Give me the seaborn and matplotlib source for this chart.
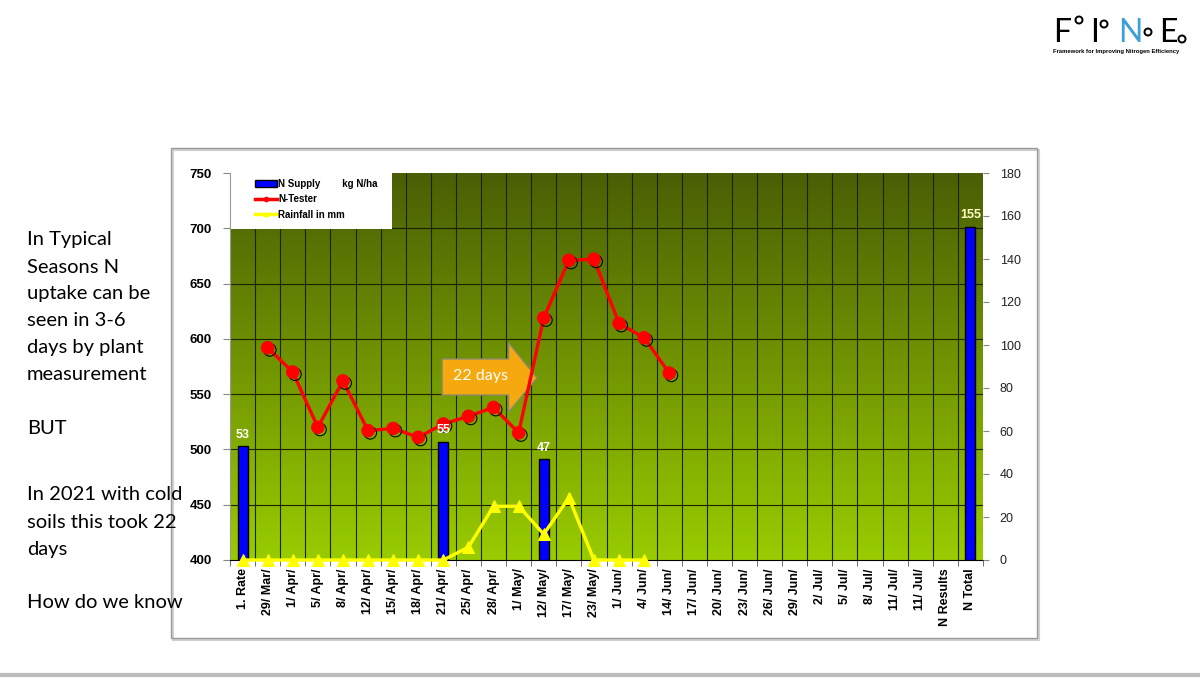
import numpy as np
import pandas as pd
import matplotlib
matplotlib.use('Agg')
import matplotlib.pyplot as plt
import matplotlib.patheffects as pe
import seaborn as sns
from matplotlib.colors import LinearSegmentedColormap
from matplotlib.patches import Rectangle, Polygon, Patch, Ellipse
from matplotlib.lines import Line2D

# ---- data ----
dates = ['1. Rate', '29/ Mar/', '1/ Apr/', '5/ Apr/', '8/ Apr/', '12/ Apr/', '15/ Apr/',
         '18/ Apr/', '21/ Apr/', '25/ Apr/', '28/ Apr/', '1/ May/', '12/ May/', '17/ May/',
         '23/ May/', '1/ Jun/', '4/ Jun/', '14/ Jun/', '17/ Jun/', '20/ Jun/', '23/ Jun/',
         '26/ Jun/', '29/ Jun/', '2/ Jul/', '5/ Jul/', '8/ Jul/', '11/ Jul/', '11/ Jul/',
         'N Results', 'N Total']

supply_idx = [0, 8, 12, 29]
supply_kg = [53, 55, 47, 155]

tester_idx = list(range(1, 18))
tester_vals = [592, 570, 520, 562, 517, 519, 511, 523, 530, 538, 515, 619, 671, 672, 614, 601, 569]

rain_idx = list(range(0, 17))
rain_mm = [0, 0, 0, 0, 0, 0, 0, 0, 0, 6, 25, 25, 12, 29, 0, 0, 0]

left_text = [('In Typical', 240), ('Seasons N', 267), ('uptake can be', 294),
             ('seen in 3-6', 321), ('days by plant', 348), ('measurement', 375),
             ('BUT', 428), ('In 2021 with cold', 495), ('soils this took 22', 522),
             ('days', 549), ('How do we know', 603)]

W, H = 1200, 678
plt.rcParams['font.family'] = ['Liberation Sans', 'DejaVu Sans']
fig = plt.figure(figsize=(12, 6.78), dpi=100)
fig.patch.set_facecolor('white')

ax1 = fig.add_axes([230 / W, 1 - 560 / H, 753 / W, 387 / H])
ax2 = ax1.twinx()

# green gradient background
cmap = LinearSegmentedColormap.from_list('g', [(0.60, 0.80, 0.0), (0.29, 0.37, 0.02)])
grad = np.linspace(0, 1, 256).reshape(-1, 1)
ax1.imshow(grad, extent=[-0.5, 29.5, 400, 750], origin='lower', aspect='auto',
           cmap=cmap, zorder=0)

# grid
ax1.vlines(np.arange(0.5, 29.5, 1), 400, 750, color='#1c2200', lw=0.8, zorder=1)
ax1.hlines(np.arange(450, 750, 50), -0.5, 29.5, color='#1c2200', lw=0.8, zorder=1)

# white legend box in the top-left corner
ax1.add_patch(Rectangle((-0.5, 699), 6.45, 51, facecolor='white', edgecolor='none', zorder=2))

# arrow
arrow = Polygon([(7.95, 581.8), (10.6, 581.8), (10.6, 596.3), (11.73, 564.6),
                 (10.6, 533.9), (10.6, 549.2), (7.95, 549.2)], closed=True,
                facecolor='#f5a90f', edgecolor='#8a8a6a', lw=1, zorder=3)
ax1.add_patch(arrow)
ax1.text(9.5, 566, '22 days', color='white', fontsize=11.5, family=['Lato', 'DejaVu Sans'],
         ha='center', va='center', zorder=4)

# N-Tester line
sns.lineplot(x=tester_idx, y=tester_vals, ax=ax1, color='#ff0000', linewidth=2.4, zorder=5)
sns.lineplot(x=tester_idx, y=tester_vals, ax=ax1, color='#ff0000', marker='o',
             markersize=9, markeredgecolor='#ff0000', linestyle='none', zorder=6,
             path_effects=[pe.SimpleLineShadow(offset=(1.6, -1.6), shadow_color='black', alpha=1.0),
                           pe.Normal()])

# N supply bars and rainfall
sns.barplot(x=supply_idx, y=supply_kg, order=list(range(len(dates))), ax=ax2,
            color='#0000ff', saturation=1, width=0.4, edgecolor='black', linewidth=1)
for i, v in zip(supply_idx, supply_kg):
    ax2.text(i, v + 2.5, str(v), ha='center', va='bottom', fontsize=9, fontweight='bold',
             color='#ffffc8' if v > 100 else 'white')
sns.lineplot(x=rain_idx, y=rain_mm, ax=ax2, color='#ffff00', linewidth=2.4, marker='^',
             markersize=8, markeredgecolor='#ffff00', clip_on=False, zorder=5)

# axes styling
ax1.set_xlim(-0.5, 29.5)
ax1.set_ylim(400, 750)
ax2.set_ylim(0, 180)
ax1.set_yticks(np.arange(400, 751, 50))
ax1.set_yticklabels([str(v) for v in range(400, 751, 50)], fontsize=9.5, fontweight='bold')
ax2.set_yticks(np.arange(0, 181, 20))
ax2.set_yticklabels([str(v) for v in range(0, 181, 20)], fontsize=9, color='#222222')
ax1.set_xticks(range(len(dates)))
ax1.set_xticklabels(dates, rotation=90, fontsize=9, fontweight='bold')
ax1.set_xticks(np.arange(-0.5, 30, 1), minor=True)
ax1.tick_params(axis='x', which='major', length=0, pad=6)
ax1.tick_params(axis='x', which='minor', length=4, color='#555555')
ax1.tick_params(axis='y', length=5, color='#888888', pad=8)
ax2.tick_params(axis='y', length=4, color='#888888', pad=8)
for a in (ax1, ax2):
    a.set_xlabel('')
    a.set_ylabel('')
    for s in ('top', 'right'):
        a.spines[s].set_visible(False)
ax2.spines['left'].set_visible(False)
ax2.spines['bottom'].set_visible(False)
ax1.spines['left'].set_color('#999999')
ax1.spines['left'].set_linewidth(0.8)
ax1.spines['bottom'].set_color('black')

# legend
handles = [Patch(facecolor='#0000ff', edgecolor='black', label='N Supply        kg N/ha'),
           Line2D([], [], color='#ff0000', lw=2.5, marker='o', markersize=3, label='N-Tester'),
           Line2D([], [], color='#ffff00', lw=2.5, marker='^', markersize=3, label='Rainfall in mm')]
leg = ax2.legend(handles=handles, loc='upper left', bbox_to_anchor=(250 / W, 1 - 174 / H),
                 bbox_transform=fig.transFigure, frameon=False, handlelength=2.3,
                 handleheight=0.6, labelspacing=0.55, borderpad=0, handletextpad=0.1,
                 prop={'size': 7, 'weight': 'bold'})

# chart frame and slide decorations
fig.add_artist(Rectangle((173 / W, 1 - 640 / H), 866 / W, 490 / H, transform=fig.transFigure,
                         fill=False, edgecolor='#d0d0d0', lw=1.5))
fig.add_artist(Rectangle((171 / W, 1 - 638 / H), 866 / W, 490 / H, transform=fig.transFigure,
                         fill=False, edgecolor='#9a9a9a', lw=1.0))
fig.add_artist(Line2D([0, 1], [1 - 675 / H] * 2, transform=fig.transFigure,
                      color='#bdbdbd', lw=3))

for s, y in left_text:
    fig.text(27 / W, 1 - y / H, s, fontsize=14.5, va='center', ha='left',
             family=['Lato', 'DejaVu Sans'], color='black')

# FINE logo
for ch, x, c in [('F', 1053, 'black'), ('I', 1090, 'black'), ('N', 1118, '#3d9fd8'), ('E', 1159, 'black')]:
    fig.text(x / W, 1 - 42 / H, ch, fontsize=23, color=c, ha='left', va='baseline',
             family=['Lato', 'DejaVu Sans'])
for x, y in [(1079, 20), (1104, 24), (1148, 32), (1182, 39)]:
    fig.add_artist(Ellipse((x / W, 1 - y / H), 7 / W, 7 / H, transform=fig.transFigure,
                           fill=False, edgecolor='black', lw=1.4))
fig.text(1053 / W, 1 - 52 / H, 'Framework for Improving Nitrogen Efficiency', fontsize=4.2,
         fontweight='bold', ha='left', va='center')

fig.savefig('out.png', dpi=100)
